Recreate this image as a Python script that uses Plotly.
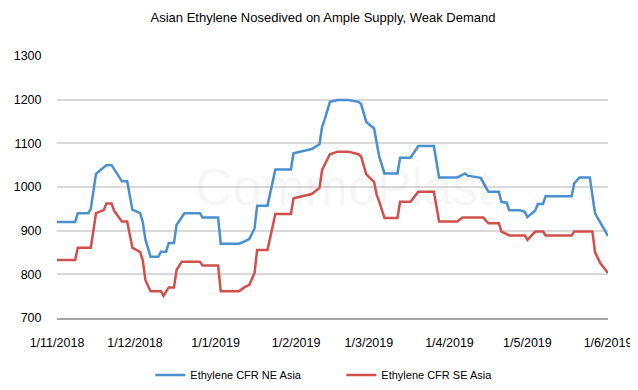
import plotly.graph_objects as go

title_text = "Asian Ethylene Nosedived on Ample Supply, Weak Demand"
ne_name = "Ethylene CFR NE Asia"
se_name = "Ethylene CFR SE Asia"

ne_dates = ["2018-11-01","2018-11-08","2018-11-09","2018-11-13","2018-11-14","2018-11-16","2018-11-18","2018-11-20","2018-11-22","2018-11-26",
            "2018-11-28","2018-11-30","2018-12-03","2018-12-04","2018-12-05","2018-12-07","2018-12-10","2018-12-11","2018-12-13","2018-12-14",
            "2018-12-16","2018-12-17","2018-12-20","2018-12-26","2018-12-27","2019-01-02","2019-01-03","2019-01-10","2019-01-12","2019-01-14",
            "2019-01-16","2019-01-17","2019-01-21","2019-01-24","2019-01-30","2019-01-31","2019-02-07","2019-02-10","2019-02-11","2019-02-12",
            "2019-02-14","2019-02-17","2019-02-21","2019-02-25","2019-02-26","2019-02-28","2019-03-03","2019-03-04","2019-03-05","2019-03-07",
            "2019-03-12","2019-03-13","2019-03-17","2019-03-20","2019-03-26","2019-03-28","2019-04-04","2019-04-07","2019-04-08","2019-04-13",
            "2019-04-16","2019-04-20","2019-04-21","2019-04-23","2019-04-24","2019-04-28","2019-04-30","2019-05-01","2019-05-04","2019-05-05",
            "2019-05-07","2019-05-08","2019-05-18","2019-05-19","2019-05-21","2019-05-25","2019-05-27","2019-05-28","2019-06-01"]
ne_values = [920,920,940,940,950,1030,1040,1050,1050,1013,
             1013,948,940,920,880,840,840,852,852,872,
             872,913,940,940,930,930,870,870,875,881,
             905,957,957,1040,1040,1077,1087,1098,1138,1155,
             1195,1199,1199,1195,1190,1149,1134,1096,1069,1031,
             1031,1067,1067,1094,1094,1022,1022,1031,1026,1021,
             989,989,966,964,947,947,943,931,946,961,
             961,979,979,1008,1022,1022,940,929,888]

se_dates = ["2018-11-01","2018-11-08","2018-11-09","2018-11-14","2018-11-16","2018-11-19","2018-11-20","2018-11-22","2018-11-23","2018-11-26",
            "2018-11-28","2018-11-30","2018-12-03","2018-12-04","2018-12-05","2018-12-07","2018-12-11","2018-12-12","2018-12-14","2018-12-16",
            "2018-12-17","2018-12-19","2018-12-26","2018-12-27","2019-01-02","2019-01-03","2019-01-10","2019-01-12","2019-01-14","2019-01-16",
            "2019-01-17","2019-01-21","2019-01-24","2019-01-30","2019-01-31","2019-02-07","2019-02-10","2019-02-11","2019-02-14","2019-02-17",
            "2019-02-21","2019-02-25","2019-02-26","2019-02-28","2019-03-03","2019-03-04","2019-03-05","2019-03-07","2019-03-12","2019-03-13",
            "2019-03-17","2019-03-20","2019-03-26","2019-03-28","2019-04-04","2019-04-06","2019-04-14","2019-04-16","2019-04-20","2019-04-21",
            "2019-04-24","2019-04-30","2019-05-01","2019-05-04","2019-05-07","2019-05-08","2019-05-18","2019-05-19","2019-05-26","2019-05-27",
            "2019-05-29","2019-06-01"]
se_values = [833,833,861,861,940,947,962,962,945,921,
             921,861,851,832,787,761,761,751,770,770,
             810,829,829,820,820,761,761,770,776,803,
             856,856,938,938,974,984,998,1039,1075,1081,
             1081,1075,1070,1029,1012,982,966,929,929,966,
             966,989,989,921,921,930,930,917,917,898,
             889,889,879,898,898,889,889,898,898,851,
             826,803]

x_range = ["2018-11-01", "2019-06-01"]
y_range = [700, 1300]

fig = go.Figure()
fig.add_trace(go.Scatter(x=ne_dates, y=ne_values, mode="lines", name=ne_name,
                         line=dict(color="#4A8FD0", width=2.5)))
fig.add_trace(go.Scatter(x=se_dates, y=se_values, mode="lines", name=se_name,
                         line=dict(color="#D0504C", width=2.5)))

# faint watermark
fig.add_annotation(text="CommoPlast", xref="paper", yref="paper", x=0.52, y=0.5,
                   showarrow=False, font=dict(family="Liberation Sans", size=52,
                                              color="rgba(0,0,0,0.035)"))

# page body has an 8px margin, so the figure is sized/offset to compensate
fig.update_layout(
    width=630, height=382,
    margin=dict(l=49, r=30, t=48, b=72, autoexpand=False),
    paper_bgcolor="white", plot_bgcolor="white",
    title=dict(text=title_text, x=0.5, xanchor="center", y=0.976, yanchor="middle",
               font=dict(family="Liberation Sans, Arial, sans-serif", size=13, color="#000")),
    showlegend=True,
    legend=dict(orientation="h", x=0.516, xanchor="center", y=-0.2176, yanchor="middle",
                font=dict(family="Liberation Sans, Arial, sans-serif", size=11, color="#000"),
                entrywidth=146, entrywidthmode="pixels", itemwidth=30),
    font=dict(family="Liberation Sans, Arial, sans-serif", size=12, color="#000"),
)
fig.update_xaxes(type="date", range=x_range, tickformat="%-d/%-m/%Y", dtick="M1", tick0="2018-11-01",
                 showgrid=False, showline=True, linecolor="#A6A6A6", linewidth=2,
                 ticks="outside", ticklen=12, tickcolor="rgba(0,0,0,0)", ticklabeloverflow="allow",
                 tickfont=dict(size=12.5), zeroline=False, automargin=False)
fig.update_yaxes(range=y_range, dtick=100, showgrid=True, gridcolor="#D9D9D9", gridwidth=1.5,
                 ticks="outside", ticklen=12, tickcolor="rgba(0,0,0,0)", zeroline=False,
                 tickfont=dict(size=12.5), automargin=False)

fig.write_html("out.html")
